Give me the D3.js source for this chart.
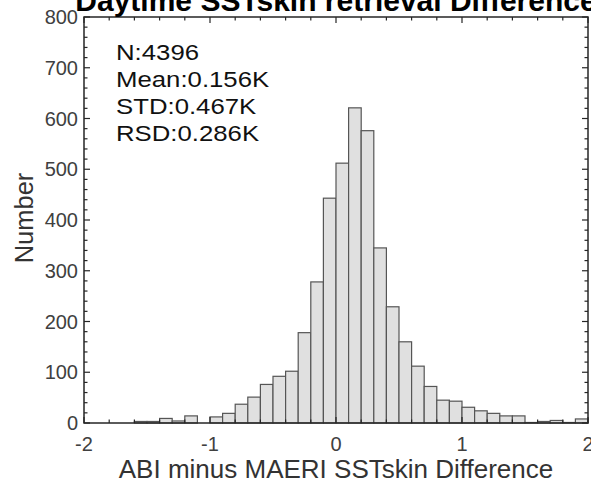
<!DOCTYPE html>
<html><head><meta charset="utf-8">
<script src="https://cdn.jsdelivr.net/npm/d3@7"></script>
<style>body{margin:0;background:#fff;} svg{display:block;}</style>
</head><body>
<svg id="c" width="591" height="485"></svg>
<script>
// Data
const binStart = [-2.0,-1.9,-1.8,-1.7,-1.6,-1.5,-1.4,-1.3,-1.2,-1.1,-1.0,-0.9,-0.8,-0.7,-0.6,-0.5,-0.4,-0.3,-0.2,-0.1,
                  0.0,0.1,0.2,0.3,0.4,0.5,0.6,0.7,0.8,0.9,1.0,1.1,1.2,1.3,1.4,1.5,1.6,1.7,1.8,1.9];
const counts   = [0,0,0,0,3,3,9,4,14,0,12,19,37,51,76,92,102,178,278,443,
                  512,621,576,345,229,160,112,72,45,43,31,24,19,14,14,1,3,5,1,8];
const binWidth = 0.1;
const xTicks = [-2,-1,0,1,2];
const yTicks = [0,100,200,300,400,500,600,700,800];
const statsLines = ["N:4396","Mean:0.156K","STD:0.467K","RSD:0.286K"];
const titleText = "Daytime SSTskin retrieval Difference";
const xLabel = "ABI minus MAERI SSTskin Difference";
const yLabel = "Number";

const svg = d3.select("#c");
const L = 84, R = 588, T = 17, B = 423;
const x = d3.scaleLinear().domain([-2,2]).range([L,R]);
const y = d3.scaleLinear().domain([0,800]).range([B,T]);
const font = "Liberation Sans, Arial, Helvetica, sans-serif";
const axisCol = "#262626";

// bars
svg.append("g").selectAll("rect").data(counts).join("rect")
  .attr("x", (d,i)=>x(binStart[i]))
  .attr("width", (d,i)=>x(binStart[i]+binWidth)-x(binStart[i]))
  .attr("y", d=>y(d))
  .attr("height", d=>y(0)-y(d))
  .attr("fill","#e0e0e0").attr("stroke","#555").attr("stroke-width",1.2);

// ticks (inner)
const g = svg.append("g").attr("stroke",axisCol);
const yMinor = d3.range(0,801,20);
yMinor.forEach(v=>{
  const len = v%100===0 ? 6 : 3.5;
  g.append("line").attr("x1",L).attr("x2",L+len).attr("y1",y(v)).attr("y2",y(v)).attr("stroke-width",1.2);
  g.append("line").attr("x1",R).attr("x2",R-len).attr("y1",y(v)).attr("y2",y(v)).attr("stroke-width",1.2);
});
const xMinor = d3.range(-20,21,2).map(v=>v/10);
xMinor.forEach(v=>{
  const len = Math.abs(v-Math.round(v))<1e-9 ? 6 : 3.5;
  g.append("line").attr("x1",x(v)).attr("x2",x(v)).attr("y1",B).attr("y2",B-len).attr("stroke-width",1.2);
  g.append("line").attr("x1",x(v)).attr("x2",x(v)).attr("y1",T).attr("y2",T+len).attr("stroke-width",1.2);
});

// box
svg.append("rect").attr("x",L).attr("y",T).attr("width",R-L).attr("height",B-T)
  .attr("fill","none").attr("stroke",axisCol).attr("stroke-width",1.5);

// tick labels
svg.append("g").selectAll("text").data(yTicks).join("text")
  .attr("x",L-6).attr("y",d=>y(d)+7).attr("text-anchor","end")
  .attr("font-family",font).attr("font-size",20).attr("fill","#404040").text(d=>d);
svg.append("g").selectAll("text").data(xTicks).join("text")
  .attr("x",d=>x(d)).attr("y",451).attr("text-anchor","middle")
  .attr("font-family",font).attr("font-size",20).attr("fill","#404040").text(d=>d);

// axis labels
svg.append("text").attr("x",(L+R)/2).attr("y",478).attr("text-anchor","middle")
  .attr("font-family",font).attr("font-size",26).attr("fill","#333").text(xLabel);
svg.append("text").attr("transform","translate(33,218) rotate(-90)").attr("text-anchor","middle")
  .attr("font-family",font).attr("font-size",25.5).attr("fill","#333").text(yLabel);

// title
svg.append("text").attr("x",(L+R)/2).attr("y",11).attr("text-anchor","middle")
  .attr("font-family",font).attr("font-size",30).attr("font-weight","bold").attr("fill","#000").text(titleText);

// stats
svg.append("g").attr("transform","translate(116,0) scale(1.12,1)")
  .selectAll("text").data(statsLines).join("text")
  .attr("x",0).attr("y",(d,i)=>60+i*27)
  .attr("font-family",font).attr("font-size",23).attr("fill","#111").text(d=>d);
</script>
</body></html>
